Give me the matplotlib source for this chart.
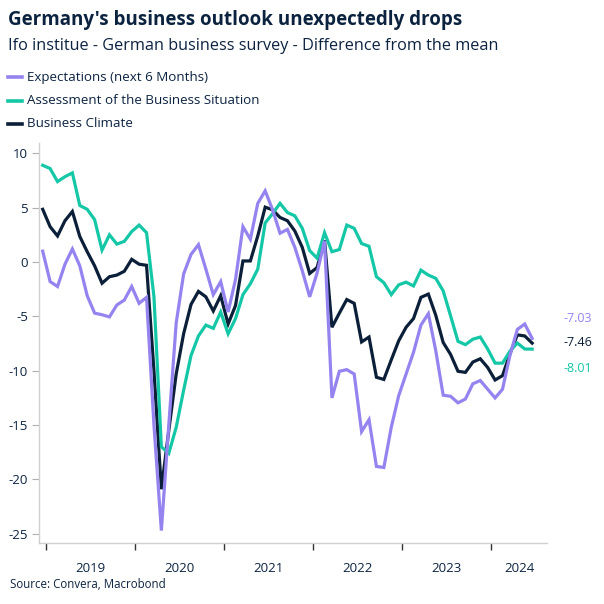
import matplotlib
matplotlib.use("Agg")
import matplotlib.pyplot as plt
import pandas as pd
import numpy as np

# ---- data (difference from the mean), monthly Dec 2018 .. Jun 2024 ----
months = pd.date_range("2018-12-01", "2024-06-01", freq="MS")

expectations = [
    1.0, -1.8, -2.25, -0.2, 1.2, -0.35, -3.1, -4.7, -4.85, -5.05, -3.95, -3.5,
    -2.25, -3.8, -3.25, -15.0, -24.7, -15.0, -5.6, -1.1, 0.7, 1.6, -0.65, -3.0,
    -1.8, -4.6, -1.6, 3.25, 2.1, 5.4, 6.55, 4.8, 2.65, 3.0, 1.35, -0.8,
    -3.2, -1.0, 1.95, -12.5, -10.05, -9.9, -10.3, -15.6, -14.5, -18.8, -18.9, -15.2,
    -12.3, -10.3, -8.3, -5.8, -4.75, -8.15, -12.25, -12.35, -12.95, -12.6, -11.2, -10.9,
    -11.7, -12.5, -11.7, -8.6, -6.2, -5.7, -7.03,
]
situation = [
    8.9, 8.6, 7.4, 7.85, 8.2, 5.2, 4.85, 3.9, 1.1, 2.5, 1.65, 1.9,
    2.8, 3.4, 2.7, -3.2, -17.0, -17.6, -15.2, -11.8, -8.6, -6.8, -5.8, -6.1,
    -4.6, -6.6, -5.2, -3.0, -2.0, -0.65, 3.6, 4.45, 5.4, 4.55, 4.25, 3.1,
    1.05, 0.35, 2.7, 0.95, 1.15, 3.4, 3.1, 1.7, 1.45, -1.35, -1.9, -3.0,
    -2.1, -1.85, -2.2, -0.75, -1.2, -1.5, -2.65, -4.95, -7.3, -7.6, -7.1, -6.9,
    -8.0, -9.3, -9.3, -8.2, -7.45, -8.0, -8.01,
]
climate = [
    4.85, 3.25, 2.4, 3.8, 4.65, 2.35, 0.95, -0.35, -1.95, -1.35, -1.2, -0.85,
    0.25, -0.2, -0.3, -10.0, -20.9, -15.5, -10.3, -6.6, -3.9, -2.7, -3.2, -4.5,
    -3.1, -5.7, -4.0, 0.1, 0.1, 2.4, 5.05, 4.8, 4.1, 3.8, 2.85, 1.35,
    -1.05, -0.5, 2.0, -6.0, -4.7, -3.45, -3.8, -7.35, -6.9, -10.6, -10.8, -9.0,
    -7.25, -6.0, -5.2, -3.25, -2.95, -4.9, -7.4, -8.5, -10.05, -10.15, -9.2, -8.9,
    -9.7, -10.85, -10.45, -8.45, -6.7, -6.8, -7.46,
]

series_names = ["Expectations (next 6 Months)",
                "Assessment of the Business Situation",
                "Business Climate"]
years = [2019, 2020, 2021, 2022, 2023, 2024]
yticks = [10, 5, 0, -5, -10, -15, -20, -25]

# ---- style ----
PURPLE = "#9583f0"
GREEN = "#14c7a6"
NAVY = "#0b1f38"
TEXT = "#0c2340"
AXIS = "#d0d0d0"

plt.rcParams["font.family"] = ["Open Sans", "DejaVu Sans"]

fig = plt.figure(figsize=(6.04, 6.04), dpi=100)
ax = fig.add_axes([39 / 604, 1 - 542.5 / 604, (547 - 39) / 604, (542.5 - 143) / 604])

# x position: months since Jan 2019, plotted mid-month
x = np.array([(d.year - 2019) * 12 + d.month - 1 + 0.5 for d in months])

ax.plot(x, climate, color=NAVY, lw=2.3, zorder=3, solid_joinstyle="miter")
ax.plot(x, situation, color=GREEN, lw=2.3, zorder=4, solid_joinstyle="miter")
ax.plot(x, expectations, color=PURPLE, lw=2.3, zorder=5, solid_joinstyle="miter")

xmax = 67.5
ax.set_xlim(-1.0, xmax)
ax.set_ylim(-25.8, 10.95)

for s in ["top", "right"]:
    ax.spines[s].set_visible(False)
for s in ["left", "bottom"]:
    ax.spines[s].set_color(AXIS)
    ax.spines[s].set_linewidth(1.0)

ax.set_yticks(yticks)
ax.set_yticklabels([str(v) for v in yticks])
ax.tick_params(axis="y", length=5, width=0.8, color="#b0b0b0", labelsize=9.5,
               labelcolor=TEXT, pad=3)

major = [(y - 2019) * 12 for y in years]
ax.set_xticks(major)
ax.set_xticklabels([""] * len(major))
ax.tick_params(axis="x", which="major", length=5, width=1.0, color="#333333")
label_pos = [m + 6 for m in major[:-1]] + [(major[-1] + xmax) / 2]
ax.set_xticks(label_pos, minor=True)
ax.set_xticklabels([str(y) for y in years], minor=True)
ax.tick_params(axis="x", which="minor", length=0, labelsize=9.5, labelcolor=TEXT, pad=14)

# end labels
ax.annotate(f"{expectations[-1]:.2f}", xy=(1, 0), xycoords="axes fraction",
            xytext=(564, 604 - 318), textcoords="figure pixels",
            color=PURPLE, fontsize=9, va="center", ha="left")
ax.annotate(f"{climate[-1]:.2f}", xy=(1, 0), xycoords="axes fraction",
            xytext=(564, 604 - 343), textcoords="figure pixels",
            color=NAVY, fontsize=9, va="center", ha="left")
ax.annotate(f"{situation[-1]:.2f}", xy=(1, 0), xycoords="axes fraction",
            xytext=(564, 604 - 369), textcoords="figure pixels",
            color=GREEN, fontsize=9, va="center", ha="left")

# titles
fig.text(8 / 604, 1 - 20 / 604, "Germany's business outlook unexpectedly drops",
         fontsize=13.5, fontweight="bold", color=TEXT, va="center", ha="left")
fig.text(8 / 604, 1 - 46.5 / 604, "Ifo institue - German business survey - Difference from the mean",
         fontsize=11.7, color=TEXT, va="center", ha="left")

# legend (manual rows)
leg_colors = [PURPLE, GREEN, NAVY]
leg_y = [77, 101, 124]
for name, c, yy in zip(series_names, leg_colors, leg_y):
    fig.add_artist(plt.Line2D([8 / 604, 22 / 604], [1 - yy / 604, 1 - yy / 604],
                              color=c, lw=2.6, transform=fig.transFigure))
    fig.text(27 / 604, 1 - yy / 604, name, fontsize=9.6, color=TEXT, va="center", ha="left")

fig.text(10 / 604, 1 - 585 / 604, "Source: Convera, Macrobond", fontsize=8.3,
         color=TEXT, va="center", ha="left")

fig.savefig("out.png", dpi=100, facecolor="white")
